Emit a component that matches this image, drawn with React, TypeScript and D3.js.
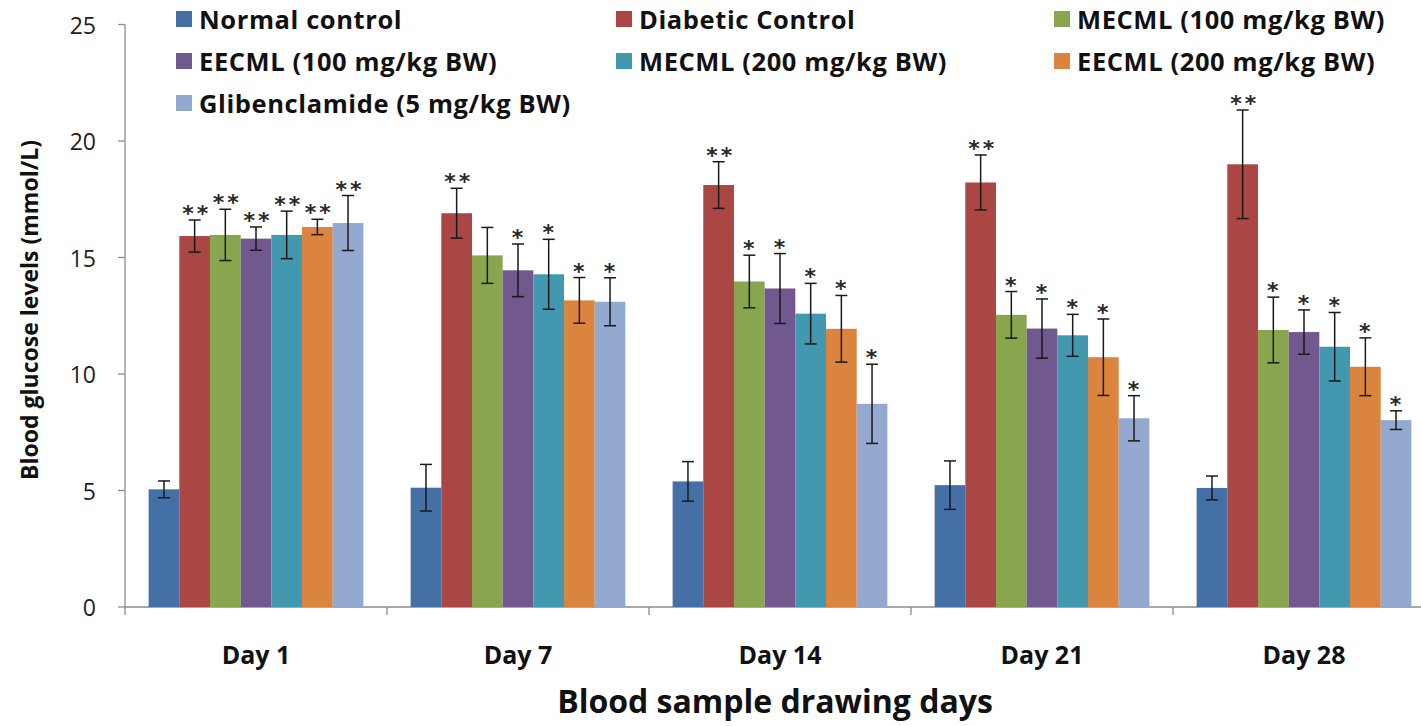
import React from "react";
import * as d3 from "d3";

const days = ["Day 1", "Day 7", "Day 14", "Day 21", "Day 28"];
const seriesNames = [
  "Normal control",
  "Diabetic Control",
  "MECML (100 mg/kg BW)",
  "EECML (100 mg/kg BW)",
  "MECML (200 mg/kg BW)",
  "EECML (200 mg/kg BW)",
  "Glibenclamide (5 mg/kg BW)",
];
const seriesColors = ["#4470A6", "#AA4643", "#89A54E", "#71588F", "#4198AF", "#DB843D", "#93A9CF"];

// values[series][day]
const normalControl = [5.05, 5.12, 5.39, 5.23, 5.11];
const diabeticControl = [15.92, 16.9, 18.11, 18.22, 19.0];
const mecml100 = [15.97, 15.09, 13.97, 12.54, 11.89];
const eecml100 = [15.81, 14.45, 13.67, 11.95, 11.8];
const mecml200 = [15.97, 14.28, 12.59, 11.66, 11.17];
const eecml200 = [16.31, 13.16, 11.94, 10.72, 10.31];
const gliben = [16.48, 13.1, 8.72, 8.1, 8.02];

const normalErr = [0.36, 1.0, 0.85, 1.04, 0.51];
const diabeticErr = [0.69, 1.07, 1.0, 1.18, 2.33];
const mecml100Err = [1.1, 1.2, 1.13, 1.0, 1.41];
const eecml100Err = [0.5, 1.13, 1.5, 1.27, 0.95];
const mecml200Err = [1.02, 1.5, 1.3, 0.9, 1.47];
const eecml200Err = [0.33, 0.98, 1.43, 1.64, 1.24];
const glibenErr = [1.18, 1.03, 1.7, 0.97, 0.4];

const normalSig = ["", "", "", "", ""];
const diabeticSig = ["**", "**", "**", "**", "**"];
const mecml100Sig = ["**", "", "*", "*", "*"];
const eecml100Sig = ["**", "*", "*", "*", "*"];
const mecml200Sig = ["**", "*", "*", "*", "*"];
const eecml200Sig = ["**", "*", "*", "*", "*"];
const glibenSig = ["**", "*", "*", "*", "*"];

const values = [normalControl, diabeticControl, mecml100, eecml100, mecml200, eecml200, gliben];
const errors = [normalErr, diabeticErr, mecml100Err, eecml100Err, mecml200Err, eecml200Err, glibenErr];
const sigs = [normalSig, diabeticSig, mecml100Sig, eecml100Sig, mecml200Sig, eecml200Sig, glibenSig];

const yTicks = [0, 5, 10, 15, 20, 25];

const W = 1421;
const H = 726;
const left = 125;
const catW = 262;
const FONT = "'Open Sans', Lato, sans-serif";

export default function App() {
  const y = d3.scaleLinear().domain([0, 25]).range([607, 24.5]);
  const x0 = d3.scaleBand().domain(days).range([left, left + catW * days.length]).padding(0);
  const x1 = d3
    .scaleBand()
    .domain(seriesNames)
    .range([0, x0.bandwidth()])
    .paddingInner(0)
    .paddingOuter(0.77);
  const bw = x1.bandwidth();
  const axisColor = "#8c8c8c";

  const legendCols = [176, 616, 1054];
  const legendRows = [19, 61, 103];

  return (
    <svg
      width={W}
      height={H}
      style={{ position: "absolute", left: 0, top: 0, background: "#fff" }}
      fontFamily={FONT}
    >
      {/* Y axis */}
      <line x1={left} x2={left} y1={y(25)} y2={y(0)} stroke={axisColor} strokeWidth={1.3} />
      {yTicks.map((t) => (
        <g key={t}>
          <line x1={left - 7} x2={left} y1={y(t)} y2={y(t)} stroke={axisColor} strokeWidth={1.3} />
          <text x={96} y={y(t)} textAnchor="end" dominantBaseline="central" fontSize={23} fill="#222">
            {t}
          </text>
        </g>
      ))}
      {/* X axis */}
      <line x1={left} x2={left + catW * days.length} y1={y(0)} y2={y(0)} stroke={axisColor} strokeWidth={1.3} />
      {days.map((d, i) => (
        <line
          key={"t" + i}
          x1={x0(d)!}
          x2={x0(d)!}
          y1={y(0)}
          y2={y(0) + 8}
          stroke={axisColor}
          strokeWidth={1.3}
        />
      ))}
      {days.map((d) => (
        <text
          key={"l" + d}
          x={x0(d)! + x0.bandwidth() / 2}
          y={654}
          textAnchor="middle"
          dominantBaseline="central"
          fontSize={25}
          fontWeight="bold"
          fill="#111"
        >
          {d}
        </text>
      ))}
      {/* bars */}
      {seriesNames.map((s, si) =>
        days.map((d, di) => {
          const v = values[si][di];
          const bx = x0(d)! + x1(s)!;
          return (
            <rect
              key={s + d}
              x={bx}
              y={y(v)}
              width={bw}
              height={y(0) - y(v)}
              fill={seriesColors[si]}
            />
          );
        })
      )}
      {/* error bars */}
      {seriesNames.map((s, si) =>
        days.map((d, di) => {
          const v = values[si][di];
          const e = errors[si][di];
          const cx = x0(d)! + x1(s)! + bw / 2;
          const top = y(v + e);
          const bot = y(v - e);
          const cap = 6;
          return (
            <g key={"e" + s + d} stroke="#1a1a1a" strokeWidth={1.5}>
              <line x1={cx} x2={cx} y1={top} y2={bot} />
              <line x1={cx - cap} x2={cx + cap} y1={top} y2={top} />
              <line x1={cx - cap} x2={cx + cap} y1={bot} y2={bot} />
              {sigs[si][di] && (
                <text
                  x={cx + (sigs[si][di].length > 1 ? 2 : 1)}
                  y={top + 1}
                  textAnchor="middle"
                  fontSize={22}
                  fontWeight="bold"
                  fontFamily="'DejaVu Sans', sans-serif"
                  stroke="none"
                  fill="#2a2a2a"
                  letterSpacing={3}
                >
                  {sigs[si][di]}
                </text>
              )}
            </g>
          );
        })
      )}
      {/* axis titles */}
      <text
        transform={`translate(29,${310}) rotate(-90)`}
        textAnchor="middle"
        dominantBaseline="central"
        fontSize={23}
        fontWeight="bold"
        fill="#111"
      >
        Blood glucose levels (mmol/L)
      </text>
      <text x={775} y={700} textAnchor="middle" dominantBaseline="central" fontSize={32} fontWeight="bold" fill="#111">
        Blood sample drawing days
      </text>
      {/* legend */}
      {seriesNames.map((s, i) => {
        const col = i % 3;
        const row = Math.floor(i / 3);
        const lx = legendCols[col];
        const ly = legendRows[row];
        return (
          <g key={"lg" + s}>
            <rect x={lx} y={ly - 8} width={16} height={16} fill={seriesColors[i]} />
            <text
              x={lx + 23}
              y={ly}
              dominantBaseline="central"
              fontSize={25.5}
              fontWeight="bold"
              letterSpacing={0.6}
              fill="#111"
            >
              {s}
            </text>
          </g>
        );
      })}
    </svg>
  );
}
